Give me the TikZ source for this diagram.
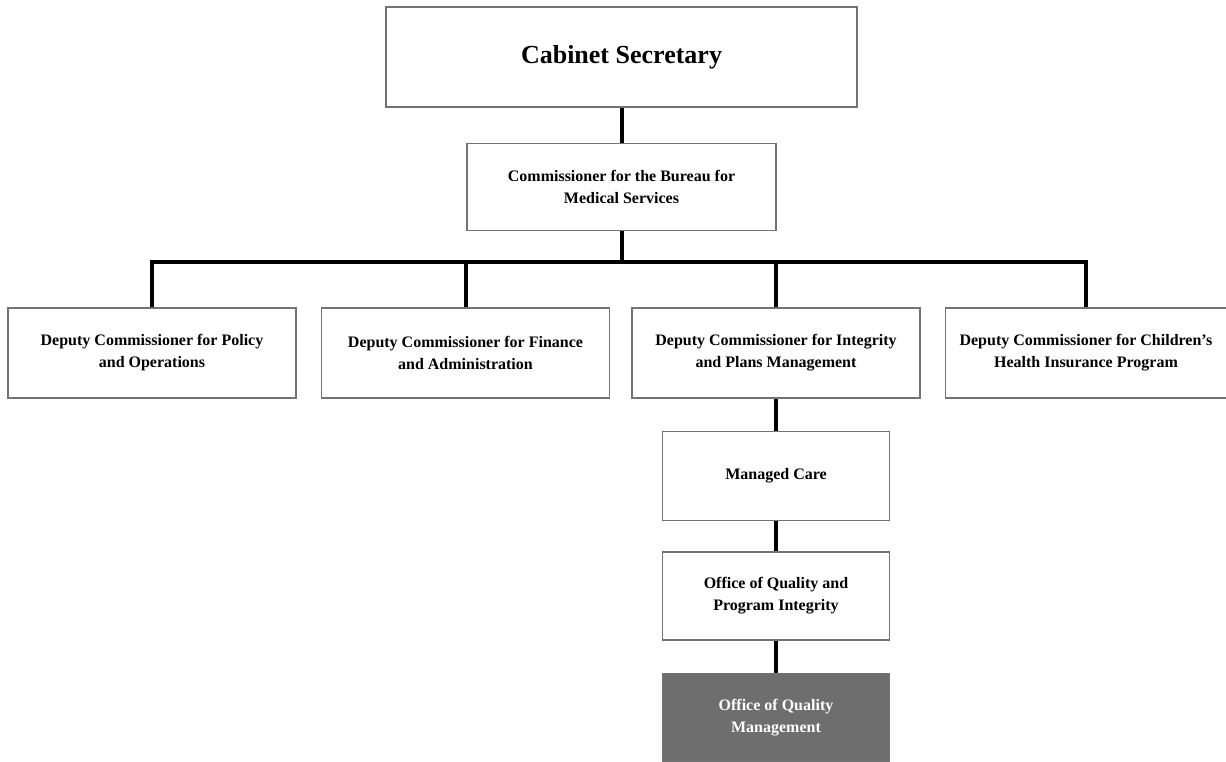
\documentclass[tikz,border=0pt]{standalone}
\usepackage{fontspec}
\setmainfont{Liberation Serif}
\usetikzlibrary{positioning}
\tikzset{
  unit/.style={draw=black!55, line width=0.75pt, fill=white, align=center,
    inner sep=0pt, font=\bfseries\fontsize{8}{11}\selectfont},
  dep/.style={unit, minimum width=144pt, minimum height=45pt},
  sub/.style={unit, minimum width=113.5pt, minimum height=44pt},
  link/.style={line width=2pt}
}
\begin{document}
\begin{tikzpicture}
  \useasboundingbox (0,0) rectangle (613pt,-380.5pt);
  \node (CS) [unit, minimum width=235.5pt, minimum height=50pt,
    font=\bfseries\fontsize{13}{15}\selectfont] at (310.75pt,-28.5pt) {Cabinet Secretary};
  \node (BMS) [unit, minimum width=154.5pt, minimum height=43.5pt, below=17.5pt of CS]
    {Commissioner for the Bureau for\\Medical Services};
  \node (DC1) [dep] at (76pt,-176.5pt) {Deputy Commissioner for Policy\\and Operations};
  \node (DC2) [dep, right=12pt of DC1] {Deputy Commissioner for Finance\\and Administration};
  \node (DC3) [dep, right=10.5pt of DC2] {Deputy Commissioner for Integrity\\and Plans Management};
  \node (DC4) [dep, minimum width=140.5pt, right=12pt of DC3]
    {Deputy Commissioner for Children's\\Health Insurance Program};
  \node (MC) [sub, minimum height=44.5pt, below=16pt of DC3] {Managed Care};
  \node (OQPI) [sub, below=15pt of MC] {Office of Quality and\\Program Integrity};
  \node (OQM) [sub, fill=black!57, text=white, below=16pt of OQPI]
    {Office of Quality\\Management};
  \coordinate (bus) at (310.75pt,-131pt);
  \draw[link] (CS) -- (BMS);
  \draw[link] (BMS) -- (bus);
  \draw[link] (DC1.north) |- (bus) -| (DC4.north);
  \draw[link] (DC2.north) -- (DC2.north |- bus);
  \draw[link] (DC3.north) -- (DC3.north |- bus);
  \draw[link] (DC3) -- (MC);
  \draw[link] (MC) -- (OQPI);
  \draw[link] (OQPI) -- (OQM);
\end{tikzpicture}
\end{document}
